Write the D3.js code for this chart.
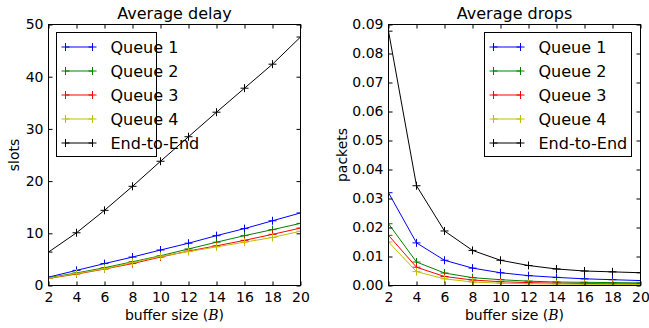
<!DOCTYPE html>
<html><head><meta charset="utf-8">
<script src="https://cdn.jsdelivr.net/npm/d3@7/dist/d3.min.js"></script>
<style>
body{margin:0;background:#fff;}
text{font-family:"DejaVu Sans",sans-serif;fill:#000;}
</style></head>
<body>
<svg id="chart" width="649" height="328"></svg>
<script>
const bufferSizes = [2,4,6,8,10,12,14,16,18,20];
const seriesNames = ["Queue 1","Queue 2","Queue 3","Queue 4","End-to-End"];
const seriesColors = ["#0000ff","#008000","#ff0000","#bfbf00","#000000"];

const delayQ1 = [1.6,2.9,4.2,5.45,6.8,8.1,9.55,10.9,12.4,13.9];
const delayQ2 = [1.5,2.4,3.4,4.55,5.7,7.0,8.3,9.55,10.7,11.9];
const delayQ3 = [1.35,2.2,3.15,4.2,5.45,6.6,7.6,8.65,9.8,11.0];
const delayQ4 = [1.4,2.3,3.2,4.4,5.6,6.5,7.4,8.3,9.2,10.4];
const delayE2E = [6.4,10.1,14.4,19.0,23.8,28.5,33.2,37.8,42.4,47.6];

const dropsQ1 = [0.0320,0.0147,0.0087,0.0060,0.0044,0.0034,0.0028,0.0023,0.0020,0.0017];
const dropsQ2 = [0.0213,0.0081,0.0043,0.0027,0.0020,0.0015,0.0012,0.0011,0.0010,0.0009];
const dropsQ3 = [0.0173,0.0063,0.0031,0.0019,0.0013,0.0010,0.0008,0.0007,0.0006,0.0006];
const dropsQ4 = [0.0150,0.0048,0.0023,0.0012,0.0008,0.0006,0.0005,0.0004,0.0004,0.0003];
const dropsE2E = [0.0877,0.0344,0.0188,0.0121,0.0087,0.0069,0.0057,0.0050,0.0047,0.0044];

const xTicks = [2,4,6,8,10,12,14,16,18,20];
const delayTicks = [0,10,20,30,40,50];
const dropsTicks = [0,0.01,0.02,0.03,0.04,0.05,0.06,0.07,0.08,0.09];

const svg = d3.select("#chart");

function panel(cfg){
  const {left,right,top,bottom,yDomain,yTicks,yFmt,title,yLabel,yLabelX,series,legend} = cfg;
  const g = svg.append("g");
  const x = d3.scaleLinear().domain([2,20]).range([left,right]);
  const y = d3.scaleLinear().domain(yDomain).range([bottom,top]);
  const clipId = "clip"+left;
  svg.append("defs").append("clipPath").attr("id",clipId)
    .append("rect").attr("x",left).attr("y",top).attr("width",right-left).attr("height",bottom-top);

  const plot = g.append("g").attr("clip-path",`url(#${clipId})`);
  const line = d3.line().x((d,i)=>x(bufferSizes[i])).y(d=>y(d));
  series.forEach((vals,si)=>{
    plot.append("path").attr("d",line(vals)).attr("fill","none")
      .attr("stroke",seriesColors[si]).attr("stroke-width",1);
    plot.selectAll(null).data(vals).enter().append("path")
      .attr("d",(d,i)=>{const cx=x(bufferSizes[i]), cy=y(d); return `M${cx-4},${cy}H${cx+4}M${cx},${cy-4}V${cy+4}`;})
      .attr("stroke",seriesColors[si]).attr("stroke-width",1);
  });

  // axes (ticks inward, mirrored)
  const axB = d3.axisBottom(x).tickValues(xTicks).tickSizeInner(-4).tickSizeOuter(0).tickPadding(7);
  const axT = d3.axisTop(x).tickValues(xTicks).tickSizeInner(-4).tickSizeOuter(0).tickFormat("");
  const axL = d3.axisLeft(y).tickValues(yTicks).tickSizeInner(-4).tickSizeOuter(0).tickPadding(5).tickFormat(yFmt);
  const axR = d3.axisRight(y).tickValues(yTicks).tickSizeInner(-4).tickSizeOuter(0).tickFormat("");
  [[axB,`translate(0,${bottom})`],[axT,`translate(0,${top})`],[axL,`translate(${left},0)`],[axR,`translate(${right},0)`]].forEach(([ax,t])=>{
    const a = g.append("g").attr("transform",t).call(ax);
    a.select(".domain").remove();
    a.selectAll("line").attr("stroke","#000").attr("stroke-width",1);
    a.selectAll("text").style("font-family","DejaVu Sans").style("font-size","14px").attr("fill","#000");
  });
  g.append("rect").attr("x",left).attr("y",top).attr("width",right-left).attr("height",bottom-top)
    .attr("fill","none").attr("stroke","#000").attr("stroke-width",1);

  g.append("text").attr("x",(left+right)/2).attr("y",top-6).attr("text-anchor","middle")
    .style("font-size","16px").text(title);
  const xl = g.append("text").attr("x",(left+right)/2).attr("y",320).attr("text-anchor","middle").style("font-size","14px");
  xl.append("tspan").text("buffer size (");
  xl.append("tspan").style("font-family","DejaVu Serif").style("font-style","italic").text("B");
  xl.append("tspan").text(")");
  g.append("text").attr("transform",`translate(${yLabelX},${(top+bottom)/2}) rotate(-90)`)
    .attr("text-anchor","middle").style("font-size","14px").text(yLabel);

  // legend
  const lg = g.append("g");
  lg.append("rect").attr("x",legend.x).attr("y",legend.y).attr("width",legend.w).attr("height",legend.h)
    .attr("fill","#fff").attr("stroke","#000").attr("stroke-width",1);
  seriesNames.forEach((name,i)=>{
    const ry = legend.y + 14.5 + i*24;
    const x1 = legend.x+9, x2 = legend.x+36;
    lg.append("line").attr("x1",x1).attr("x2",x2).attr("y1",ry).attr("y2",ry).attr("stroke",seriesColors[i]);
    [x1,x2].forEach(cx=>lg.append("path").attr("d",`M${cx-4},${ry}H${cx+4}M${cx},${ry-4}V${ry+4}`).attr("stroke",seriesColors[i]));
    lg.append("text").attr("x",legend.x+54).attr("y",ry+6).style("font-size","16px").text(name);
  });
}

panel({left:48.5,right:300.5,top:24.5,bottom:285.5,yDomain:[0,50],yTicks:delayTicks,yFmt:d3.format("d"),
  title:"Average delay",yLabel:"slots",yLabelX:19,
  series:[delayQ1,delayQ2,delayQ3,delayQ4,delayE2E],
  legend:{x:56.5,y:32.5,w:100,h:124}});
panel({left:388.5,right:640.5,top:24.5,bottom:285.5,yDomain:[0,0.09],yTicks:dropsTicks,yFmt:d3.format(".2f"),
  title:"Average drops",yLabel:"packets",yLabelX:347,
  series:[dropsQ1,dropsQ2,dropsQ3,dropsQ4,dropsE2E],
  legend:{x:484.5,y:32.5,w:147,h:124}});
</script>
</body></html>
